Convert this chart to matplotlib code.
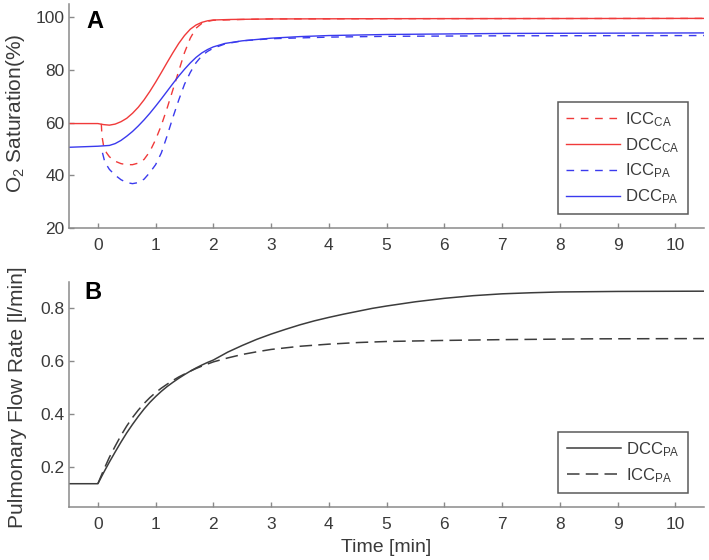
"""
Two stacked panels: O2 saturation (A) and pulmonary flow rate (B) versus time.
"""

import matplotlib
matplotlib.use("Agg")
import matplotlib.pyplot as plt

plt.rcParams["font.family"] = ["Liberation Sans", "DejaVu Sans"]
plt.rcParams["mathtext.default"] = "regular"
plt.rcParams["lines.scale_dashes"] = False

SPINE_COLOR = "#8a8a8a"
TEXT_COLOR = "#3a3a3a"
RED = "#f03a3a"
BLUE = "#3a3aee"
DARK = "#3c3c3c"

# ---- panel A: O2 saturation (%) ----
t_icc_ca = [0.06, 0.07, 0.1, 0.15, 0.2, 0.3, 0.4, 0.5, 0.6, 0.7, 0.8, 0.9, 1.0,
            1.1, 1.2, 1.3, 1.4, 1.5, 1.6, 1.7, 1.8, 1.9, 2.0, 2.5, 3.0, 5.0, 10.5]
icc_ca = [59.5, 55.0, 51.0, 48.5, 47.0, 45.3, 44.4, 44.0, 44.0, 44.6, 46.0, 49.0, 53.5,
          59.0, 65.5, 72.5, 79.5, 86.5, 92.0, 95.8, 97.6, 98.4, 98.8, 99.1, 99.3, 99.4, 99.5]

t_dcc_ca = [-0.5, 0.0, 0.1, 0.2, 0.3, 0.4, 0.5, 0.6, 0.7, 0.8, 0.9, 1.0, 1.1, 1.2,
            1.3, 1.4, 1.5, 1.6, 1.7, 1.8, 1.9, 2.0, 2.3, 3.0, 5.0, 10.5]
dcc_ca = [59.6, 59.6, 59.2, 59.0, 59.4, 60.3, 61.6, 63.5, 65.8, 68.6, 71.8, 75.3, 79.0, 82.8,
          86.5, 90.0, 93.0, 95.4, 97.0, 98.0, 98.6, 98.9, 99.1, 99.3, 99.4, 99.5]

t_icc_pa = [0.08, 0.12, 0.2, 0.3, 0.4, 0.5, 0.6, 0.7, 0.8, 0.9, 1.0, 1.1, 1.2, 1.3,
            1.4, 1.5, 1.6, 1.7, 1.8, 1.9, 2.0, 2.2, 2.5, 3.0, 4.0, 5.0, 7.0, 10.5]
icc_pa = [48.5, 45.0, 42.2, 40.0, 38.3, 37.2, 36.8, 37.2, 38.5, 41.0, 44.0, 48.5, 55.0, 62.0,
          68.5, 74.5, 79.0, 82.7, 85.3, 87.0, 88.2, 89.8, 91.0, 91.8, 92.4, 92.7, 92.9, 93.0]

t_dcc_pa = [-0.5, 0.0, 0.2, 0.3, 0.4, 0.5, 0.6, 0.7, 0.8, 0.9, 1.0, 1.1, 1.2, 1.3, 1.4,
            1.5, 1.6, 1.7, 1.8, 1.9, 2.0, 2.2, 2.5, 3.0, 3.5, 4.0, 5.0, 7.0, 10.5]
dcc_pa = [50.6, 51.0, 51.3, 52.0, 53.2, 54.8, 56.6, 58.7, 61.0, 63.5, 66.2, 69.0, 71.9, 74.8, 77.6,
          80.2, 82.6, 84.7, 86.4, 87.7, 88.7, 90.0, 91.0, 92.0, 92.6, 93.0, 93.4, 93.8, 94.0]

# ---- panel B: pulmonary flow rate (l/min) ----
t_flow_dcc = [-0.5, 0.0, 0.1, 0.2, 0.3, 0.4, 0.5, 0.6, 0.7, 0.8, 0.9, 1.0, 1.1, 1.2, 1.3,
              1.4, 1.5, 1.6, 1.7, 1.8, 1.9, 2.0, 2.25, 2.5, 2.75, 3.0, 3.25, 3.5, 3.75,
              4.0, 4.25, 4.5, 4.75, 5.0, 5.5, 6.0, 6.5, 7.0, 7.5, 8.0, 9.0, 10.5]
flow_dcc = [0.138, 0.138, 0.18, 0.22, 0.258, 0.295, 0.33, 0.362, 0.392, 0.42, 0.445, 0.467,
            0.487, 0.505, 0.521, 0.536, 0.55, 0.563, 0.575, 0.586, 0.596, 0.605, 0.635,
            0.66, 0.683, 0.703, 0.721, 0.738, 0.753, 0.766, 0.778, 0.789, 0.80, 0.809,
            0.825, 0.838, 0.848, 0.855, 0.859, 0.862, 0.864, 0.865]

t_flow_icc = [0.0, 0.1, 0.2, 0.3, 0.4, 0.5, 0.6, 0.7, 0.8, 0.9, 1.0, 1.1, 1.2, 1.3, 1.4,
              1.5, 1.6, 1.7, 1.8, 1.9, 2.0, 2.25, 2.5, 2.75, 3.0, 3.5, 4.0, 4.5, 5.0,
              6.0, 7.0, 8.5, 10.5]
flow_icc = [0.138, 0.19, 0.238, 0.28, 0.32, 0.356, 0.388, 0.416, 0.441, 0.463, 0.482,
            0.499, 0.514, 0.528, 0.541, 0.552, 0.563, 0.573, 0.582, 0.59, 0.598, 0.613,
            0.626, 0.636, 0.645, 0.657, 0.665, 0.671, 0.675, 0.679, 0.682, 0.685, 0.686]

x_ticks = list(range(0, 11))
sat_ticks = [20, 40, 60, 80, 100]
flow_ticks = [0.2, 0.4, 0.6, 0.8]

DASH_A = (0, (5.5, 4.8))
DASH_B = (0, (9.0, 4.5))


def style_axes(ax):
    for side in ("top", "right"):
        ax.spines[side].set_visible(False)
    for side in ("left", "bottom"):
        ax.spines[side].set_color(SPINE_COLOR)
        ax.spines[side].set_linewidth(1.1)
    ax.tick_params(axis="both", direction="in", length=3.5, width=1.0,
                   color=SPINE_COLOR, labelcolor=TEXT_COLOR, labelsize=12.5)
    ax.tick_params(axis="x", pad=7)
    ax.tick_params(axis="y", pad=3)
    ax.set_xlim(-0.5, 10.5)
    ax.set_xticks(x_ticks)


def add_legend(ax, anchor_y):
    leg = ax.legend(loc="upper right", bbox_to_anchor=(0.970, anchor_y),
                    bbox_transform=fig.transFigure, borderaxespad=0, fontsize=12,
                    handlelength=3.25, handletextpad=0.3, labelspacing=0.42,
                    borderpad=0.5, fancybox=False, framealpha=1)
    frame = leg.get_frame()
    frame.set_edgecolor("#5a5a5a")
    frame.set_linewidth(1.1)
    for txt in leg.get_texts():
        txt.set_color(TEXT_COLOR)
    return leg


fig = plt.figure(figsize=(7.09, 5.6), dpi=100)
ax_a = fig.add_axes([0.0973, 0.593, 0.896, 0.400])
ax_b = fig.add_axes([0.0973, 0.0946, 0.896, 0.402])

# panel A
ax_a.plot(t_icc_ca, icc_ca, color=RED, lw=1.0, linestyle=DASH_A, label=r"ICC$_{CA}$")
ax_a.plot(t_dcc_ca, dcc_ca, color=RED, lw=1.0, label=r"DCC$_{CA}$")
ax_a.plot(t_icc_pa, icc_pa, color=BLUE, lw=1.0, linestyle=DASH_A, label=r"ICC$_{PA}$")
ax_a.plot(t_dcc_pa, dcc_pa, color=BLUE, lw=1.0, label=r"DCC$_{PA}$")
style_axes(ax_a)
ax_a.set_ylim(20, 105)
ax_a.set_yticks(sat_ticks)
ax_a.set_ylabel(r"O$_2$ Saturation(%)", fontsize=15, color=TEXT_COLOR)
ax_a.yaxis.set_label_coords(-0.066, 0.51)
ax_a.text(0.027, 0.975, "A", transform=ax_a.transAxes, fontsize=17,
          fontweight="bold", color="black", ha="left", va="top")
add_legend(ax_a, 0.818)

# panel B
ax_b.plot(t_flow_dcc, flow_dcc, color=DARK, lw=1.1, label=r"DCC$_{PA}$")
ax_b.plot(t_flow_icc, flow_icc, color=DARK, lw=1.1, linestyle=DASH_B, label=r"ICC$_{PA}$")
style_axes(ax_b)
ax_b.set_ylim(0.05, 0.9)
ax_b.set_yticks(flow_ticks)
ax_b.set_ylabel("Pulmonary Flow Rate [l/min]", fontsize=15, color=TEXT_COLOR)
ax_b.yaxis.set_label_coords(-0.066, 0.49)
ax_b.set_xlabel("Time [min]", fontsize=14, color=TEXT_COLOR)
ax_b.xaxis.set_label_coords(0.5, -0.14)
ax_b.text(0.025, 1.005, "B", transform=ax_b.transAxes, fontsize=17,
          fontweight="bold", color="black", ha="left", va="top")
add_legend(ax_b, 0.2286)

fig.savefig("out.png", dpi=100, facecolor="white")
plt.close(fig)
